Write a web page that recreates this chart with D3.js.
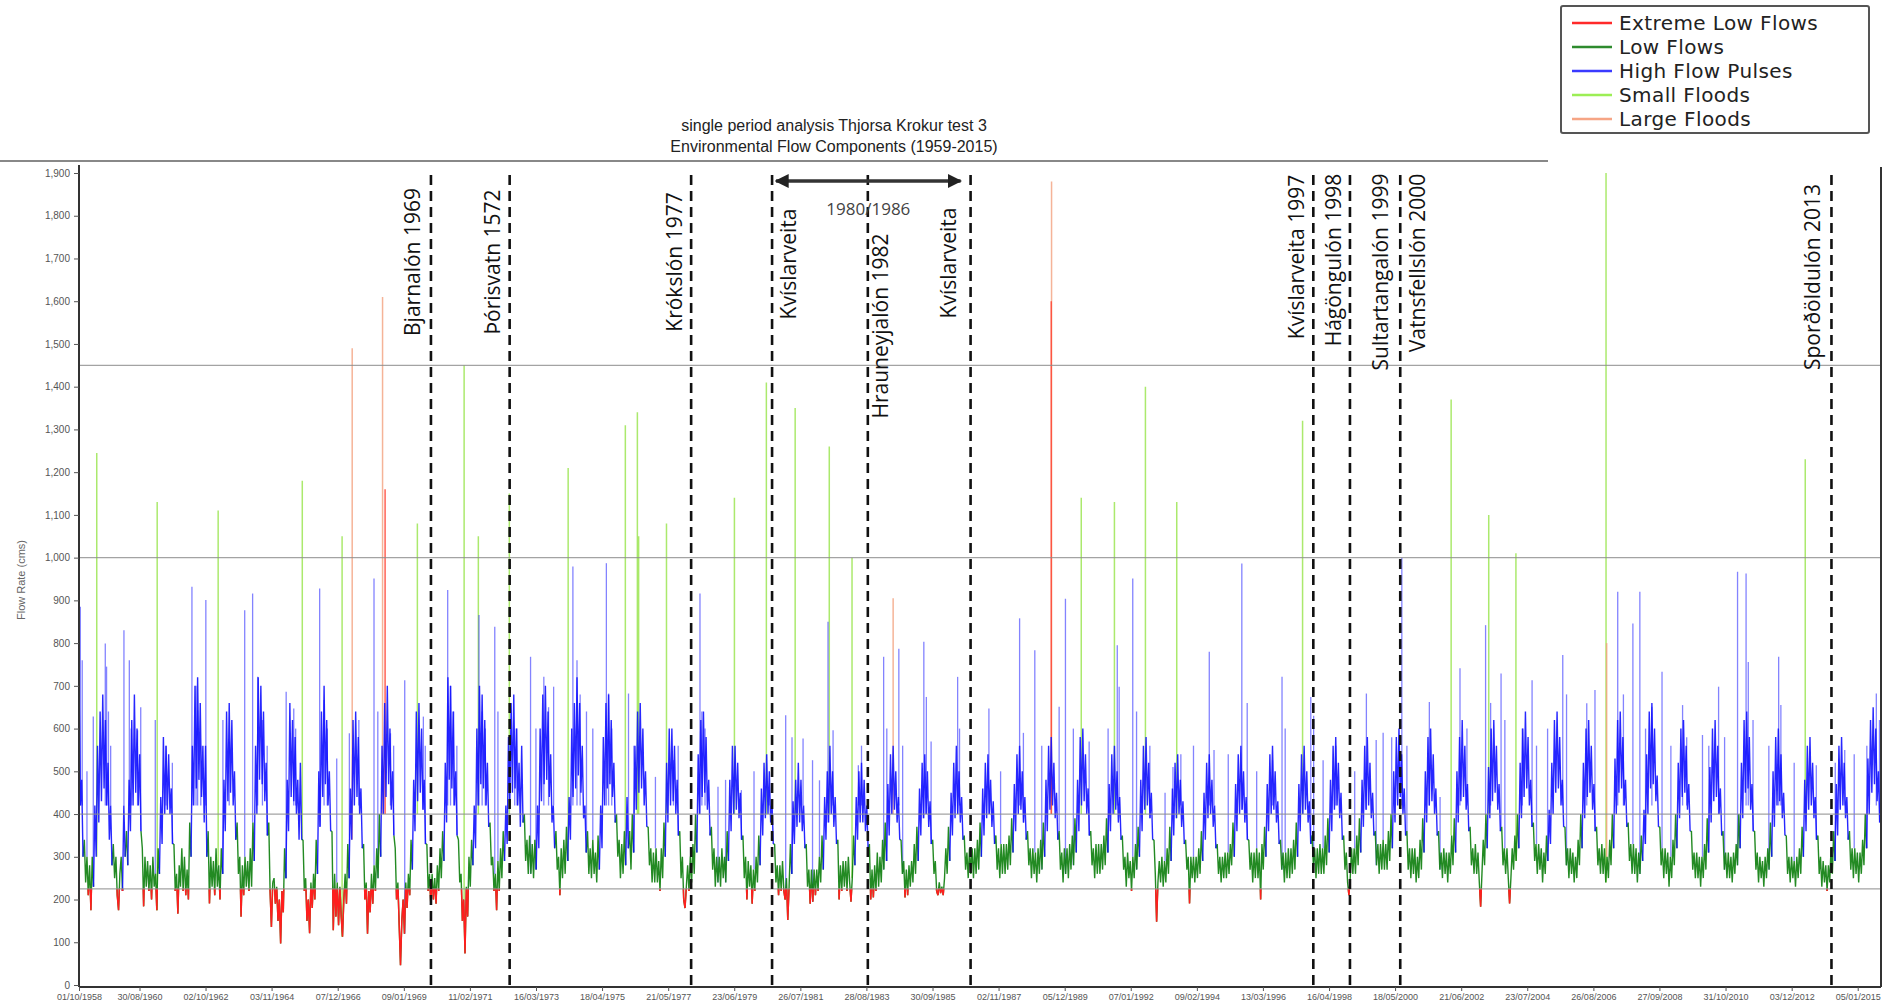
<!DOCTYPE html>
<html><head><meta charset="utf-8">
<script src="https://cdn.jsdelivr.net/npm/d3@7"></script>
<style>
body{margin:0;background:#fff;}
svg{display:block;font-family:"Liberation Sans",Arial,sans-serif;}
</style>
</head><body>
<svg id="chart" width="1897" height="1007"></svg>
<script>
// ---------------- DATA ----------------
const titleLines = ["single period analysis Thjorsa Krokur test 3", "Environmental Flow Components (1959-2015)"];
const yAxisTitle = "Flow Rate (cms)";
const yTickValues = [0,100,200,300,400,500,600,700,800,900,1000,1100,1200,1300,1400,1500,1600,1700,1800,1900];
const xTickLabels = ["01/10/1958","30/08/1960","02/10/1962","03/11/1964","07/12/1966","09/01/1969","11/02/1971","16/03/1973","18/04/1975","21/05/1977","23/06/1979","26/07/1981","28/08/1983","30/09/1985","02/11/1987","05/12/1989","07/01/1992","09/02/1994","13/03/1996","16/04/1998","18/05/2000","21/06/2002","23/07/2004","26/08/2006","27/09/2008","31/10/2010","03/12/2012","05/01/2015"];
const thresholdValues = [225, 400, 1000, 1450];

const legendLabels = ["Extreme Low Flows","Low Flows","High Flow Pulses","Small Floods","Large Floods"];
const legendColors = ["#ff2a2a","#2e8b2e","#3a3aff","#9cee55","#f6a585"];

// reservoir / diversion markers (decimal year of dashed line)
const damDates  = [1969.88, 1972.37, 1978.11, 1980.67, 1983.70, 1986.95, 1997.79, 1998.95, 2000.54, 2014.18];
const damLabels = ["Bjarnalón 1969","Þórisvatn 1572","Krókslón 1977","Kvíslarveita","Hrauneyjalón 1982","Kvíslarveita","Kvíslarveita 1997","Hágöngulón 1998","Sultartangalón 1999","Vatnsfellslón 2000","Sporðöldulón 2013"];
const periodLabel = "1980/1986";

// hydrograph, read at half-month steps (24 per water year, 1 Oct -> 15 Sep), cms
const firstWaterYear = 1959;
const flows1959to1972 = [
 [700,420,480,300,340,240,300,210,280,175,300,230,420,300,560,380,640,430,680,460,620,420,520,340],
 [420,280,330,250,300,210,175,260,300,220,420,300,360,280,480,360,620,420,680,450,600,420,540,360],
 [320,184,300,230,290,220,280,200,300,230,260,175,320,260,440,330,580,400,560,410,540,400,460,330],
 [330,220,260,167,280,230,320,220,300,210,270,200,380,300,560,420,700,460,720,480,660,440,560,380],
 [560,300,360,191,300,230,290,210,320,230,280,200,320,260,480,360,640,430,660,450,620,420,500,340],
 [380,260,300,160,280,210,300,230,290,220,320,230,380,290,560,400,720,480,700,470,640,430,520,350],
 [380,220,136,240,250,190,230,150,200,97,220,170,320,250,480,360,660,440,620,430,580,400,480,340],
 [520,340,340,220,250,150,200,121,240,180,260,200,340,260,500,370,640,440,700,470,620,420,500,360],
 [360,128,260,160,240,140,230,160,113,200,260,190,330,250,460,340,620,420,640,440,580,400,460,320],
 [330,200,240,120,220,170,260,190,280,220,320,250,400,300,560,400,660,440,700,470,600,410,500,350],
 [320,200,240,140,46,150,200,120,240,180,260,210,340,270,480,360,640,430,660,450,600,410,480,330],
 [330,220,260,191,260,200,250,190,280,220,320,250,360,290,520,380,720,480,700,460,640,420,500,350],
 [340,240,260,150,200,74,230,160,300,230,340,280,420,320,600,420,700,470,680,460,620,420,520,370],
 [380,280,300,220,260,175,290,220,320,250,360,290,420,330,580,420,660,450,680,460,600,420,520,370]
];
const flows1973to1986 = [
 [560,380,400,290,340,260,350,260,330,250,340,270,420,320,600,430,680,470,700,480,640,440,540,380],
 [420,320,360,270,300,210,320,250,340,260,370,290,440,340,600,440,660,460,720,490,660,450,560,390],
 [420,310,360,260,320,250,340,260,310,240,350,270,420,320,580,420,660,460,680,470,620,440,520,380],
 [400,300,340,250,330,260,360,280,440,320,360,270,400,310,560,410,640,450,660,460,600,420,500,370],
 [370,280,320,240,310,240,320,240,290,220,320,250,380,300,520,380,600,420,600,430,560,400,480,350],
 [360,250,300,200,180,230,280,220,300,240,330,260,400,310,540,400,620,440,640,450,580,410,480,350],
 [370,270,320,230,300,240,300,230,320,250,300,240,360,290,480,360,560,400,560,410,520,390,450,340],
 [350,250,300,200,290,230,280,190,270,220,300,240,350,280,460,350,520,390,540,400,500,380,430,330],
 [330,240,280,210,280,220,290,220,200,250,152,230,330,260,430,330,480,370,520,380,480,360,420,320],
 [330,230,270,190,270,195,270,210,270,220,300,240,350,270,440,340,500,380,560,400,500,370,440,330],
 [340,200,280,220,290,230,290,220,300,240,195,250,350,280,440,340,500,380,520,380,480,360,420,320],
 [330,200,270,205,280,220,310,230,300,240,340,270,380,290,470,350,540,400,560,410,500,380,440,340],
 [340,260,290,205,270,210,280,230,290,240,330,260,370,290,460,350,520,390,540,400,500,370,430,330],
 [340,260,290,220,210,240,215,230,210,250,320,260,370,290,450,350,520,390,560,400,500,380,440,340]
];
const flows1987to2000 = [
 [350,270,310,250,320,260,320,250,320,260,340,270,380,300,460,350,520,390,540,400,480,370,430,330],
 [350,270,320,250,330,260,330,260,330,270,350,280,390,310,470,360,540,400,560,410,500,380,440,340],
 [360,280,320,250,320,260,310,240,320,260,340,270,380,300,480,360,560,410,580,420,520,390,450,340],
 [360,270,310,240,320,260,320,250,330,270,350,280,390,310,480,360,580,420,600,430,540,400,460,350],
 [360,280,320,250,330,260,330,260,330,270,350,280,390,310,470,360,540,400,560,410,500,380,440,340],
 [350,270,300,230,310,250,290,220,300,250,330,270,370,300,480,360,560,410,580,420,520,390,450,340],
 [340,260,148,240,290,240,300,230,290,240,320,260,370,290,460,350,520,390,540,400,480,370,430,330],
 [340,270,300,191,300,250,300,240,300,250,320,260,360,290,450,340,520,390,540,400,480,370,420,320],
 [330,260,300,240,300,250,310,250,310,260,330,280,380,300,470,360,540,400,560,410,500,380,440,340],
 [340,270,310,240,310,250,320,250,310,200,330,270,370,300,470,360,540,400,560,410,500,380,430,330],
 [340,270,310,240,310,250,320,250,320,260,340,270,380,300,470,360,540,400,560,410,500,380,430,330],
 [350,280,320,250,320,260,330,260,320,260,350,280,390,310,480,360,560,410,580,420,520,390,450,340],
 [350,270,310,240,210,250,320,260,320,260,350,280,390,310,480,370,560,410,580,420,520,390,450,350],
 [360,280,330,260,330,270,340,270,330,270,360,290,400,320,500,380,580,420,600,440,540,400,460,350]
];
const flows2001to2015 = [
 [360,270,320,250,320,260,320,240,300,250,340,270,390,310,500,380,580,420,600,430,540,400,460,350],
 [360,270,310,250,320,260,310,240,310,260,350,280,390,310,500,380,580,430,620,440,560,410,470,360],
 [370,280,320,260,330,260,310,240,183,260,340,280,400,320,510,390,600,430,620,450,560,410,470,360],
 [370,280,320,260,320,250,191,250,320,270,350,290,400,320,520,390,600,440,640,460,580,420,480,370],
 [380,290,330,260,330,270,320,240,310,260,350,290,410,330,520,400,620,450,640,460,580,420,480,370],
 [370,280,320,250,320,260,310,240,300,250,340,280,400,320,520,390,600,440,620,450,560,410,470,360],
 [370,280,320,260,330,260,320,240,300,250,340,280,400,320,530,400,620,450,640,460,580,420,480,370],
 [380,290,330,260,330,260,320,240,310,260,350,290,410,330,540,400,640,460,660,470,600,430,490,370],
 [370,280,320,250,320,260,310,230,300,250,340,280,400,320,520,390,600,440,620,450,560,410,470,360],
 [360,270,310,250,310,250,300,230,300,250,330,270,390,310,510,380,600,430,620,440,560,400,460,350],
 [360,270,310,250,310,250,300,240,310,260,330,280,400,320,520,390,620,450,640,460,580,410,470,360],
 [360,270,310,240,300,250,290,230,300,250,320,270,380,300,500,370,580,420,600,430,540,390,450,350],
 [350,260,300,240,300,250,290,230,300,250,320,260,370,300,480,360,560,410,580,420,520,390,440,340],
 [350,260,300,230,290,240,280,220,280,240,320,260,360,290,470,350,560,410,580,420,520,390,440,340],
 [360,270,320,250,320,260,310,240,310,260,340,280,400,320,530,400,620,450,650,470,600,430,500,380]
];

// high-flow pulse peaks (decimal year, cms)
const pulseDates = [1958.79,1958.85,1959.00,1959.20,1959.58,1959.62,1959.68,1959.75,1960.17,1960.34,1960.40,1960.60,1960.70,1961.16,1961.50,1961.70,1962.32,1962.45,1962.50,1962.60,1962.76,1963.30,1963.50,1963.99,1964.24,1964.40,1964.55,1964.70,1965.30,1965.54,1965.60,1966.36,1966.50,1966.60,1966.90,1967.30,1967.60,1968.08,1968.20,1968.60,1968.70,1969.05,1969.64,1969.70,1970.41,1970.50,1970.60,1970.70,1971.40,1971.50,1971.60,1971.90,1972.00,1972.53,1972.60,1973.03,1973.20,1973.45,1973.60,1973.76,1974.37,1974.50,1974.60,1974.80,1975.00,1975.43,1975.50,1975.60,1976.13,1976.30,1976.98,1977.55,1977.70,1978.39,1978.45,1978.55,1978.96,1979.20,1979.70,1980.10,1980.58,
 1981.10,1981.30,1981.65,1981.95,1982.17,1982.44,1982.60,1983.40,1983.50,1984.20,1984.30,1984.68,1984.80,1985.47,1985.55,1985.70,1986.54,1986.60,1987.53,1987.90,1988.50,1988.62,1988.98,1989.20,1989.75,1989.95,1990.20,1990.70,1991.30,1991.59,1991.65,1992.08,1992.20,1992.62,1993.10,1993.35,1993.60,1994.00,1994.50,1994.65,1995.10,1995.53,1995.70,1996.00,1996.50,1996.80,1996.90,1997.71,1997.80,1998.10,1998.50,1999.10,1999.47,
 1999.78,2000.00,2000.27,2000.59,2000.75,2001.46,2001.80,2002.43,2002.65,2003.24,2003.40,2003.73,2003.85,2004.40,2004.71,2004.85,2005.20,2005.68,2005.80,2006.44,2006.70,2007.42,2007.60,2007.90,2008.12,2008.30,2008.50,2008.82,2009.10,2009.47,2009.60,2010.10,2010.30,2010.61,2010.80,2011.21,2011.48,2011.55,2011.70,2012.20,2012.51,2012.58,2013.00,2013.70,2014.30,2014.60,2014.90,2015.30,2015.60,2015.70];
const pulsePeaks = [885,760,500,628,799,745,640,560,830,760,600,596,650,620,560,520,932,700,643,560,901,620,570,877,916,721,620,560,686,647,600,928,667,600,530,589,620,951,640,589,560,713,628,560,924,700,640,560,866,640,600,838,640,558,600,768,600,721,650,698,979,760,680,640,600,987,682,600,682,560,487,526,560,916,640,600,464,480,456,500,456,
 631,580,577,526,479,850,596,514,560,768,600,787,560,803,674,570,721,600,647,500,858,590,783,560,651,904,600,570,600,795,698,951,640,560,450,510,540,560,780,550,540,986,660,500,526,721,600,674,630,526,560,500,682,
 573,590,580,1000,560,662,440,741,600,842,660,729,620,600,713,560,600,772,680,659,690,920,680,846,920,600,651,733,560,655,580,585,560,698,580,967,963,756,620,560,768,655,520,514,520,550,540,560,682,620];

// flood events (decimal year, peak cms, component)
const floodDates = [1959.31,1961.22,1963.15,1965.81,1967.07,1969.45,1970.93,1971.38,1972.36,1974.22,1976.03,1976.41,1976.45,1977.33,1979.48,1980.49,1981.40,1982.48,1983.20,1990.45,1991.50,1992.48,1993.47,1997.45,2002.15,2003.34,2004.20,2007.05,2013.35,
 1967.39,1968.35,1984.50,1989.51,2007.07,
 1968.43,1989.50];
const floodPeaks = [1245,1130,1110,1180,1050,1080,1450,1050,1150,1210,1310,1340,1050,1080,1140,1410,1350,1260,1000,1140,1130,1400,1130,1320,1370,1100,1010,1900,1230,
 1490,1610,905,1880,800,
 1160,1600];
const floodTypes = ["small","small","small","small","small","small","small","small","small","small","small","small","small","small","small","small","small","small","small","small","small","small","small","small","small","small","small","small","small",
 "large","large","large","large","large",
 "extreme","extreme"];

// ---------------- CHART ----------------
const W = 1897, H = 1007;
const svg = d3.select("#chart");
function decToDate(d){
  const yr = Math.floor(d);
  const a = new Date(yr,0,1), b = new Date(yr+1,0,1);
  return new Date(a.getTime() + (d-yr)*(b-a));
}
const parseTick = d3.timeParse("%d/%m/%Y");
const x = d3.scaleTime().domain([new Date(1958,9,1), new Date(2015,9,1)]).range([79,1881]);
const y = d3.scaleLinear().domain([0,1900]).range([985,173]);

const rows = [].concat(flows1959to1972, flows1973to1986, flows1987to2000, flows2001to2015);
const hydro = [];
rows.forEach((row,i)=>{
  const wy = firstWaterYear + i;
  row.forEach((v,k)=> hydro.push({t: decToDate(wy - 1 + 0.75 + k/row.length), v}));
});
const bis = d3.bisector(d=>d.t).center;
function baseAt(date){ return hydro[bis(hydro, date)].v; }

const colorOf = {extreme:"#ff1e1e", low:"#0b7d0b", high:"#1010ff", small:"#96e448", large:"#f3a07e", extremeSpike:"#ff3b2b"};

const defs = svg.append("defs");
defs.append("clipPath").attr("id","belowExtreme").append("rect")
  .attr("x",0).attr("y",y(thresholdValues[0])).attr("width",W).attr("height",H);

// titles
svg.append("text").attr("x",834).attr("y",131).attr("text-anchor","middle").attr("font-size",16).attr("fill","#222").text(titleLines[0]);
svg.append("text").attr("x",834).attr("y",152).attr("text-anchor","middle").attr("font-size",16).attr("fill","#222").text(titleLines[1]);
svg.append("line").attr("x1",0).attr("x2",1548).attr("y1",161).attr("y2",161).attr("stroke","#888").attr("stroke-width",2);

// floods
const gF = svg.append("g");
floodDates.forEach((d,i)=>{
  const t = decToDate(d);
  const base = Math.min(baseAt(t), 400);
  const type = floodTypes[i];
  gF.append("line").attr("x1",x(t)).attr("x2",x(t)).attr("y1",y(base)).attr("y2",y(floodPeaks[i]))
    .attr("stroke", type==="small"?colorOf.small: type==="large"?colorOf.large:colorOf.extremeSpike)
    .attr("stroke-width", 1.5).attr("stroke-opacity", 0.8);
});
// pulses
const gP = svg.append("g");
pulseDates.forEach((d,i)=>{
  const t = decToDate(d);
  const base = Math.min(baseAt(t), 420);
  gP.append("line").attr("x1",x(t)).attr("x2",x(t)).attr("y1",y(base)).attr("y2",y(pulsePeaks[i]))
    .attr("stroke","#3030ff").attr("stroke-width",1.3).attr("stroke-opacity",0.6);
});

// hydrograph segments: high flow pulses vs low flows (extreme lows = part below 225)
const pHigh = d3.path(), pLow = d3.path();
for(let i=1;i<hydro.length;i++){
  const a=hydro[i-1], b=hydro[i];
  const p = Math.max(a.v,b.v) > thresholdValues[1] ? pHigh : pLow;
  p.moveTo(x(a.t), y(a.v)); p.lineTo(x(b.t), y(b.v));
}
svg.append("path").attr("d",pLow.toString()).attr("fill","none").attr("stroke",colorOf.low)
  .attr("stroke-width",1.4).attr("stroke-opacity",0.9);
svg.append("path").attr("d",pLow.toString()).attr("fill","none").attr("stroke",colorOf.extreme)
  .attr("stroke-width",1.5).attr("clip-path","url(#belowExtreme)");
svg.append("path").attr("d",pHigh.toString()).attr("fill","none").attr("stroke",colorOf.high)
  .attr("stroke-width",1.4).attr("stroke-opacity",0.9);
svg.append("path").attr("d",pHigh.toString()).attr("fill","none").attr("stroke",colorOf.extreme)
  .attr("stroke-width",1.5).attr("clip-path","url(#belowExtreme)");

// thresholds
thresholdValues.forEach(v=>{
  svg.append("line").attr("x1",79).attr("x2",1881).attr("y1",y(v)).attr("y2",y(v)).attr("stroke","#8c8c8c").attr("stroke-width",1.2).attr("stroke-opacity",0.8);
});

// axes
const yAxis = d3.axisLeft(y).tickValues(yTickValues).tickFormat(d3.format(",")).tickSize(5);
const gy = svg.append("g").attr("transform","translate(79,0)").call(yAxis);
gy.select(".domain").attr("stroke","#333").attr("stroke-width",2).attr("d","M0,165V987");
gy.selectAll(".tick line").attr("stroke","#555");
gy.selectAll(".tick text").attr("font-size",10).attr("fill","#555").attr("x",-9);

const xTickDates = xTickLabels.map(parseTick);
const xAxis = d3.axisBottom(x).tickValues(xTickDates).tickFormat((d,i)=>xTickLabels[i]).tickSize(4);
const gx = svg.append("g").attr("transform","translate(0,987)").call(xAxis);
gx.select(".domain").attr("stroke","#333").attr("stroke-width",2).attr("d","M79,0H1881");
gx.selectAll(".tick line").attr("stroke","#555");
gx.selectAll(".tick text").attr("font-size",9).attr("fill","#555").attr("y",7);
svg.append("line").attr("x1",1881).attr("x2",1881).attr("y1",167).attr("y2",987).attr("stroke","#333").attr("stroke-width",2);

svg.append("text").attr("transform","translate(25,580) rotate(-90)").attr("text-anchor","middle")
  .attr("font-size",11).attr("fill","#666").text(yAxisTitle);

// dashed lines & labels
damDates.forEach(d=>{
  const xx = x(decToDate(d));
  svg.append("line").attr("x1",xx).attr("x2",xx).attr("y1",175).attr("y2",987)
    .attr("stroke","#111").attr("stroke-width",2.6).attr("stroke-dasharray","10,6");
});
const labelPos = [[412,262],[492,262],[674,262],[788,264],[880,326],[948,263],[1296,257],[1333,260],[1380,272],[1417,263],[1812,277]];
damLabels.forEach((s,i)=>{
  svg.append("text").attr("transform",`translate(${labelPos[i][0]},${labelPos[i][1]}) rotate(-90)`)
    .attr("text-anchor","middle").attr("dominant-baseline","central")
    .attr("font-family","'Open Sans',sans-serif").attr("font-size",21).attr("fill","#111").text(s);
});

// period arrow
defs.append("marker").attr("id","ah").attr("viewBox","0 0 10 10").attr("refX",9).attr("refY",5)
  .attr("markerWidth",4).attr("markerHeight",4).attr("orient","auto-start-reverse")
  .append("path").attr("d","M0,0L10,5L0,10Z").attr("fill","#222");
const ax1 = x(decToDate(damDates[3])), ax2 = x(decToDate(damDates[5]));
svg.append("line").attr("x1",ax1+4).attr("x2",ax2-10).attr("y1",181).attr("y2",181)
  .attr("stroke","#333").attr("stroke-width",3.5)
  .attr("marker-start","url(#ah)").attr("marker-end","url(#ah)");
svg.append("text").attr("x",(ax1+ax2)/2-3).attr("y",215).attr("text-anchor","middle")
  .attr("font-family","'Open Sans',sans-serif").attr("font-size",17).attr("fill","#444").text(periodLabel);

// legend
const lg = svg.append("g");
lg.append("rect").attr("x",1561).attr("y",6).attr("width",308).attr("height",127).attr("rx",2)
  .attr("fill","#fff").attr("stroke","#555").attr("stroke-width",2);
legendLabels.forEach((s,i)=>{
  const yy = 23 + i*24;
  lg.append("line").attr("x1",1572).attr("x2",1612).attr("y1",yy).attr("y2",yy).attr("stroke",legendColors[i]).attr("stroke-width",2.5);
  lg.append("text").attr("x",1619).attr("y",yy).attr("dominant-baseline","central")
    .attr("font-family","'DejaVu Sans',sans-serif").attr("font-size",20).attr("letter-spacing",0.4)
    .attr("fill","#222").text(s);
});
</script>
</body></html>
